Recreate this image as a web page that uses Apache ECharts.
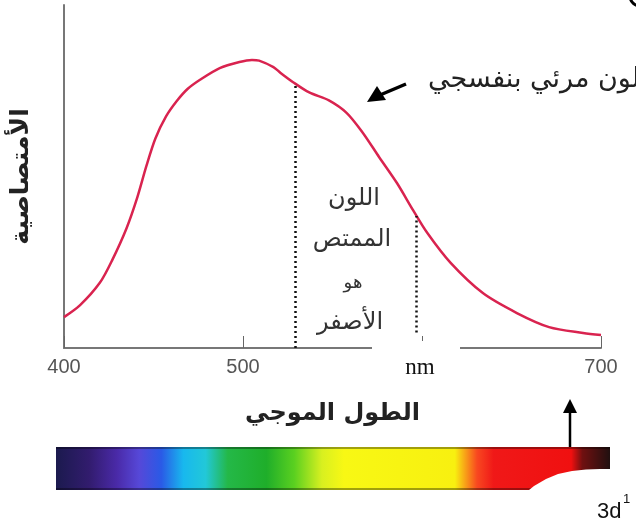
<!DOCTYPE html>
<html>
<head>
<meta charset="utf-8">
<script src="https://cdn.jsdelivr.net/npm/echarts@6/dist/echarts.min.js"></script>
<style>
  html, body { margin: 0; padding: 0; background: #fff; }
  #chart { width: 636px; height: 526px; }
</style>
</head>
<body>
<div id="chart"></div>
<script>
// wavelength (nm) and relative absorbance
const wavelengths = [400, 409, 420, 427, 435, 441, 446, 451, 457, 463, 469, 476, 487, 498, 505, 509, 517, 521, 528, 537, 548, 558, 567, 576, 586, 595, 603, 616, 634, 653, 671, 690, 700];
const absorbance = [0.09, 0.125, 0.19, 0.257, 0.35, 0.44, 0.53, 0.61, 0.675, 0.72, 0.755, 0.782, 0.816, 0.834, 0.840, 0.838, 0.819, 0.802, 0.775, 0.745, 0.722, 0.685, 0.627, 0.557, 0.481, 0.402, 0.335, 0.248, 0.160, 0.102, 0.061, 0.044, 0.038];
const xTicks = [400, 500, 600, 700];
// dotted guides: [wavelength, bottom, top]
const guides = [[529, 0, 0.772], [597, 0.045, 0.385]];

const chart = echarts.init(document.getElementById('chart'));
const pts = wavelengths.map((w, i) => [w, absorbance[i]]);

const option = {
  animation: false,
  grid: { left: 64, right: 35, top: 5, bottom: 178 },
  xAxis: {
    type: 'value',
    min: xTicks[0],
    max: xTicks[xTicks.length - 1],
    interval: 100,
    name: 'الطول الموجي',
    nameLocation: 'middle',
    nameGap: 54,
    nameTextStyle: { fontFamily: 'DejaVu Sans', fontWeight: 'bold', fontSize: 24, color: '#222' },
    axisLine: { lineStyle: { color: '#777', width: 2 } },
    axisTick: { inside: true, length: 12, lineStyle: { color: '#666', width: 1 } },
    splitLine: { show: false },
    axisLabel: { fontFamily: 'Liberation Sans', fontSize: 20, color: '#555', margin: 9 }
  },
  yAxis: {
    type: 'value',
    min: 0,
    max: 1,
    name: 'الأمتصاصية',
    nameLocation: 'middle',
    nameGap: 30,
    nameRotate: 90,
    nameTextStyle: { fontFamily: 'DejaVu Sans', fontWeight: 'bold', fontSize: 25, color: '#222' },
    axisLine: { show: true, lineStyle: { color: '#777', width: 2 } },
    axisTick: { show: false },
    axisLabel: { show: false },
    splitLine: { show: false }
  },
  series: [{
    type: 'line',
    data: pts,
    smooth: 0.3,
    showSymbol: false,
    lineStyle: { color: '#d9234f', width: 2.5 },
    markLine: {
      silent: true,
      symbol: 'none',
      label: { show: false },
      lineStyle: { color: '#111', type: [2, 3], width: 2.5 },
      data: guides.map(g => [{ coord: [g[0], g[1]] }, { coord: [g[0], g[2]] }])
    }
  }],
  graphic: [
    // patch hiding the 600 label
    { type: 'rect', shape: { x: 372, y: 341, width: 88, height: 40 }, style: { fill: '#fff' }, z: 100 },
    { type: 'text', x: 420, y: 368, style: { text: 'nm', font: '23px "Liberation Serif"', fill: '#111', align: 'center', verticalAlign: 'middle' }, z: 101 },
    // annotations
    { type: 'text', x: 640, y: 80, style: { text: 'لون مرئي بنفسجي', font: '27px "DejaVu Sans"', fill: '#222', align: 'right', verticalAlign: 'middle' }, z: 50 },
    { type: 'line', shape: { x1: 406, y1: 84, x2: 380, y2: 95 }, style: { stroke: '#000', lineWidth: 3.5 }, z: 50 },
    { type: 'polygon', shape: { points: [[367, 102], [377, 86], [386, 100]] }, style: { fill: '#000' }, z: 50 },
    { type: 'text', x: 354, y: 199, style: { text: 'اللون', font: '24px "DejaVu Sans"', fill: '#333', align: 'center', verticalAlign: 'middle' }, z: 50 },
    { type: 'text', x: 352, y: 240, style: { text: 'الممتص', font: '24px "DejaVu Sans"', fill: '#333', align: 'center', verticalAlign: 'middle' }, z: 50 },
    { type: 'text', x: 353, y: 283, style: { text: 'هو', font: '18px "DejaVu Sans"', fill: '#333', align: 'center', verticalAlign: 'middle' }, z: 50 },
    { type: 'text', x: 350, y: 323, style: { text: 'الأصفر', font: '24px "DejaVu Sans"', fill: '#333', align: 'center', verticalAlign: 'middle' }, z: 50 },
    // spectrum bar
    {
      type: 'rect', shape: { x: 56, y: 447, width: 554, height: 43 }, z: 40,
      style: {
        fill: new echarts.graphic.LinearGradient(0, 0, 1, 0, [
          { offset: 0.00, color: '#1b1a4e' },
          { offset: 0.06, color: '#321c6e' },
          { offset: 0.11, color: '#4a2aa8' },
          { offset: 0.15, color: '#5648d8' },
          { offset: 0.19, color: '#2a5ae6' },
          { offset: 0.23, color: '#18b8ee' },
          { offset: 0.27, color: '#22c8d8' },
          { offset: 0.31, color: '#24b848' },
          { offset: 0.38, color: '#1fae2a' },
          { offset: 0.43, color: '#5ad020' },
          { offset: 0.48, color: '#d8f020' },
          { offset: 0.52, color: '#f8f814' },
          { offset: 0.72, color: '#f8f010' },
          { offset: 0.76, color: '#f84820' },
          { offset: 0.79, color: '#f01818' },
          { offset: 0.93, color: '#f01010' },
          { offset: 0.95, color: '#701010' },
          { offset: 1.00, color: '#201010' }
        ])
      }
    },
    { type: 'line', shape: { x1: 56, y1: 448, x2: 610, y2: 448 }, style: { stroke: 'rgba(0,0,0,0.35)', lineWidth: 2 }, z: 41 },
    { type: 'line', shape: { x1: 56, y1: 489, x2: 610, y2: 489 }, style: { stroke: 'rgba(0,0,0,0.35)', lineWidth: 2 }, z: 41 },
    // white blob over the bottom right of the bar
    {
      type: 'polygon', z: 60, style: { fill: '#fff' },
      shape: { points: [[524, 494], [534, 486], [546, 479], [558, 474], [572, 471], [586, 469.5], [600, 469], [636, 469], [636, 526], [524, 526]] }
    },
    // arrow up to the red end
    { type: 'line', shape: { x1: 570, y1: 447, x2: 570, y2: 412 }, style: { stroke: '#000', lineWidth: 2.5 }, z: 60 },
    { type: 'polygon', shape: { points: [[570, 399], [563, 413], [577, 413]] }, style: { fill: '#000' }, z: 60 },
    { type: 'text', x: 597, y: 512, style: { text: '3d', font: '22px "Liberation Sans"', fill: '#111', verticalAlign: 'middle' }, z: 61 },
    { type: 'text', x: 623, y: 499, style: { text: '1', font: '13px "Liberation Sans"', fill: '#111', verticalAlign: 'middle' }, z: 61 },
    // fragment at the top right edge
    { type: 'arc', shape: { cx: 640, cy: -4, r: 10, startAngle: 1.6, endAngle: 3.0 }, style: { stroke: '#000', lineWidth: 3, fill: null }, z: 61 }
  ]
};

chart.setOption(option);
window.addEventListener('resize', () => chart.resize());
</script>
</body>
</html>
